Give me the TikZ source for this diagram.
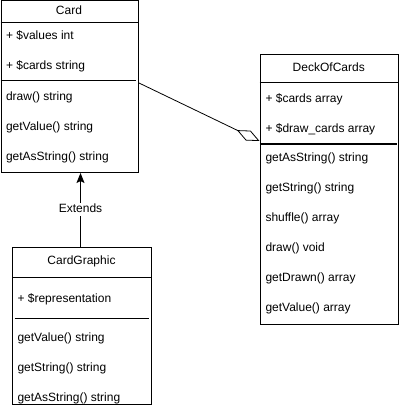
\documentclass[tikz,border=0pt]{standalone}
\usepackage{fontspec}
\setmainfont{Liberation Sans}
\usetikzlibrary{arrows.meta}
\begin{document}
\begin{tikzpicture}[x=1pt,y=-1pt,line width=1pt,
  umlbox/.style={draw,anchor=north west,inner sep=0pt},
  txt/.style={anchor=west,inner sep=0pt,font=\fontsize{12}{14}\selectfont,text height=8.6pt,text depth=2.5pt},
  hdr/.style={inner sep=0pt,font=\fontsize{12}{14}\selectfont,text height=8.6pt,text depth=2.5pt},
  sep/.style={line width=1pt}]
\useasboundingbox (0,0) rectangle (401,414);

% Card
\node[umlbox,minimum width=137.5pt,minimum height=171.5pt] (card) at (0.5,0.5) {};
\draw[sep] (0.5,22.5) -- (138,22.5);
\draw[sep] (0.5,81) -- (136,81);
\node[hdr] (cardh) at (69,11) {Card};
\node[txt] (c1) at (5.5,36.5) {+ \$values int};
\node[txt] (c2) at (5.5,66.5) {+ \$cards string};
\node[txt] (c3) at (5.5,97) {draw() string};
\node[txt] (c4) at (5.5,127) {getValue() string};
\node[txt] (c5) at (5.5,157) {getAsString() string};

% DeckOfCards
\node[umlbox,minimum width=138.5pt,minimum height=270pt] (deck) at (259.5,54) {};
\draw[sep] (259.5,83) -- (398,83);
\draw[sep] (259.5,144) -- (397,144);
\node[hdr] (deckh) at (328.75,68.5) {DeckOfCards};
\node[txt] (d1) at (265,99) {+ \$cards array};
\node[txt] (d2) at (265,129) {+ \$draw\_cards array};
\node[txt] (d3) at (265,158.5) {getAsString() string};
\node[txt] (d4) at (265,188.5) {getString() string};
\node[txt] (d5) at (265,218.5) {shuffle() array};
\node[txt] (d6) at (265,248.5) {draw() void};
\node[txt] (d7) at (265,278.5) {getDrawn() array};
\node[txt] (d8) at (265,308.5) {getValue() array};

% CardGraphic
\node[umlbox,minimum width=139pt,minimum height=157pt] (cg) at (12,247) {};
\draw[sep] (12,277) -- (151,277);
\draw[sep] (14.5,318) -- (149,318);
\node[hdr] (cgh) at (81.5,261.5) {CardGraphic};
\node[txt] (g1) at (17,299) {+ \$representation};
\node[txt] (g2) at (17,338.5) {getValue() string};
\node[txt] (g3) at (17,368.5) {getString() string};
\node[txt] (g4) at (17,398.5) {getAsString() string};

% association (aggregation)
\coordinate (aggA) at ([yshift=-82.5pt]card.north east);
\coordinate (aggB) at ([yshift=-87pt]deck.north west);
\draw[line width=0.8pt,-{Diamond[open,length=25pt,width=11pt,line width=0.8pt]}] (aggA) -- (aggB);

% extends
\coordinate (extA) at ([xshift=-1.5pt]cg.north);
\draw[line width=0.8pt,-{Stealth[length=10pt,width=8pt,inset=2pt]}] (extA) -- (extA |- card.south)
  node[pos=0.51,fill=white,inner sep=1pt,font=\fontsize{12}{14}\selectfont,text height=8.6pt,text depth=2.5pt] (extl) {Extends};
\end{tikzpicture}
\end{document}
